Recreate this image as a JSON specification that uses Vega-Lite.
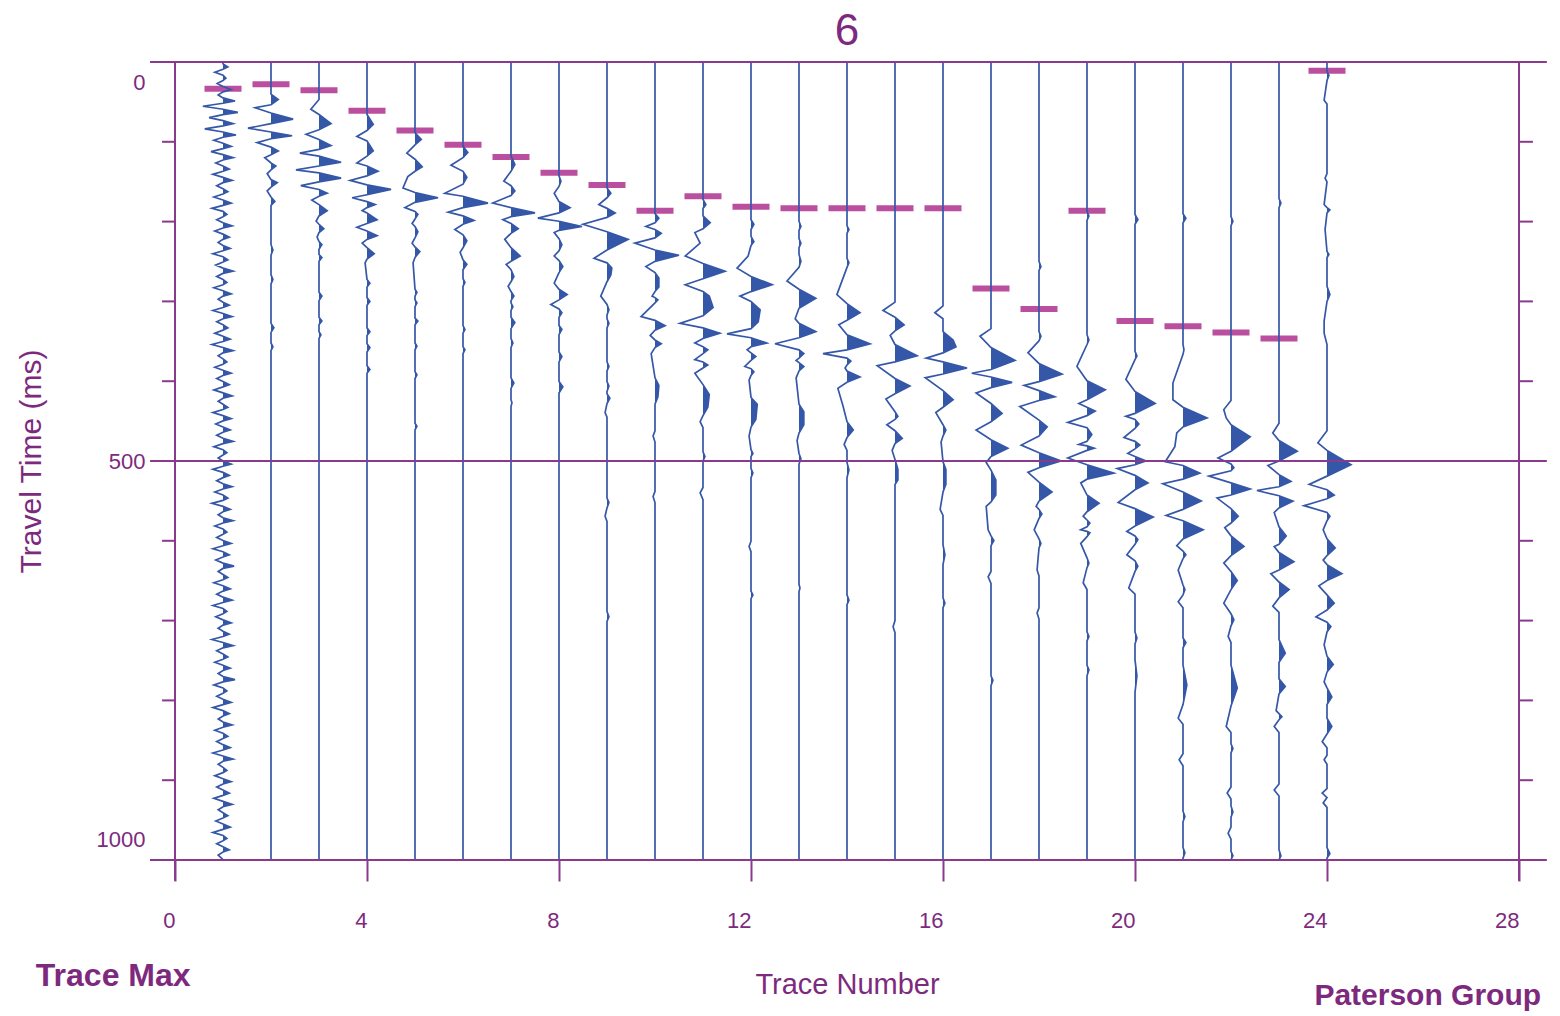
{
"$schema":"https://vega.github.io/schema/vega-lite/v6.json",
"width":1344,"height":798,
"autosize":{"type":"none"},
"padding":{"left":175,"top":62,"right":41,"bottom":156},
"background":"white",
"config":{"view":{"stroke":null}},
"title":{"text":"6","fontSize":44,"fontWeight":"normal","color":"#7d2a7e","font":"Liberation Sans","frame":"group","anchor":"middle","offset":5},
"datasets":{
"picks":[{"k":1,"t":8},{"k":2,"t":2},{"k":3,"t":10},{"k":4,"t":37},{"k":5,"t":63},{"k":6,"t":82},{"k":7,"t":98},{"k":8,"t":119},{"k":9,"t":135},{"k":10,"t":169},{"k":11,"t":150},{"k":12,"t":164},{"k":13,"t":166},{"k":14,"t":166},{"k":15,"t":166},{"k":16,"t":166},{"k":17,"t":272},{"k":18,"t":299},{"k":19,"t":169},{"k":20,"t":315},{"k":21,"t":322},{"k":22,"t":330},{"k":23,"t":338},{"k":24,"t":-16}],
"ticks":[{"t":78},{"t":183.5},{"t":289},{"t":394.5},{"t":500},{"t":605.5},{"t":711},{"t":816.5},{"t":922}],
"hl":[{"t":-27.5},{"t":500},{"t":1027.5}],
"vl":[{"v":0},{"v":28}],
"tr":[
{"k":1,"t":-27,"x":1},
{"k":1,"t":-25,"x":1,"g":1},{"k":1,"t":-21,"x":1.1,"g":1},{"k":1,"t":-18,"x":1,"g":1},{"k":1,"t":-14,"x":0.83},
{"k":1,"t":-10,"x":1,"g":2},{"k":1,"t":-6,"x":1.06,"g":2},{"k":1,"t":-3,"x":1,"g":2},{"k":1,"t":1,"x":0.88},
{"k":1,"t":5,"x":1,"g":3},{"k":1,"t":9,"x":1.17,"g":3},{"k":1,"t":12,"x":1,"g":3},{"k":1,"t":16,"x":0.9},
{"k":1,"t":20,"x":1,"g":4},{"k":1,"t":24,"x":1.25,"g":4},{"k":1,"t":27,"x":1,"g":4},{"k":1,"t":31,"x":0.58},
{"k":1,"t":35,"x":1,"g":5},{"k":1,"t":39,"x":1.31,"g":5},{"k":1,"t":42,"x":1,"g":5},{"k":1,"t":46,"x":0.71},
{"k":1,"t":50,"x":1,"g":6},{"k":1,"t":54,"x":1.21,"g":6},{"k":1,"t":57,"x":1,"g":6},{"k":1,"t":61,"x":0.62},
{"k":1,"t":65,"x":1,"g":7},{"k":1,"t":69,"x":1.27,"g":7},{"k":1,"t":72,"x":1,"g":7},{"k":1,"t":76,"x":0.81},
{"k":1,"t":80,"x":1,"g":8},{"k":1,"t":84,"x":1.17,"g":8},{"k":1,"t":87,"x":1,"g":8},{"k":1,"t":91,"x":0.75},
{"k":1,"t":95,"x":1,"g":9},{"k":1,"t":99,"x":1.21,"g":9},{"k":1,"t":102,"x":1,"g":9},{"k":1,"t":106,"x":0.85},
{"k":1,"t":110,"x":1,"g":10},{"k":1,"t":114,"x":1.13,"g":10},{"k":1,"t":117,"x":1,"g":10},{"k":1,"t":121,"x":0.79},
{"k":1,"t":125,"x":1,"g":11},{"k":1,"t":129,"x":1.19,"g":11},{"k":1,"t":132,"x":1,"g":11},{"k":1,"t":136,"x":0.87},
{"k":1,"t":140,"x":1,"g":12},{"k":1,"t":144,"x":1.1,"g":12},{"k":1,"t":147,"x":1,"g":12},{"k":1,"t":151,"x":0.81},
{"k":1,"t":155,"x":1,"g":13},{"k":1,"t":159,"x":1.17,"g":13},{"k":1,"t":162,"x":1,"g":13},{"k":1,"t":166,"x":0.77},
{"k":1,"t":170,"x":1,"g":14},{"k":1,"t":174,"x":1.08,"g":14},{"k":1,"t":177,"x":1,"g":14},{"k":1,"t":181,"x":0.87},
{"k":1,"t":185,"x":1,"g":15},{"k":1,"t":189,"x":1.19,"g":15},{"k":1,"t":192,"x":1,"g":15},{"k":1,"t":196,"x":0.83},
{"k":1,"t":200,"x":1,"g":16},{"k":1,"t":204,"x":1.13,"g":16},{"k":1,"t":207,"x":1,"g":16},{"k":1,"t":211,"x":0.9},
{"k":1,"t":215,"x":1,"g":17},{"k":1,"t":219,"x":1.15,"g":17},{"k":1,"t":222,"x":1,"g":17},{"k":1,"t":226,"x":0.79},
{"k":1,"t":230,"x":1,"g":18},{"k":1,"t":234,"x":1.1,"g":18},{"k":1,"t":237,"x":1,"g":18},{"k":1,"t":241,"x":0.85},
{"k":1,"t":245,"x":1,"g":19},{"k":1,"t":249,"x":1.21,"g":19},{"k":1,"t":252,"x":1,"g":19},{"k":1,"t":256,"x":0.87},
{"k":1,"t":260,"x":1,"g":20},{"k":1,"t":264,"x":1.08,"g":20},{"k":1,"t":267,"x":1,"g":20},{"k":1,"t":271,"x":0.81},
{"k":1,"t":275,"x":1,"g":21},{"k":1,"t":279,"x":1.17,"g":21},{"k":1,"t":282,"x":1,"g":21},{"k":1,"t":286,"x":0.9},
{"k":1,"t":290,"x":1,"g":22},{"k":1,"t":294,"x":1.13,"g":22},{"k":1,"t":297,"x":1,"g":22},{"k":1,"t":301,"x":0.79},
{"k":1,"t":305,"x":1,"g":23},{"k":1,"t":309,"x":1.19,"g":23},{"k":1,"t":312,"x":1,"g":23},{"k":1,"t":316,"x":0.87},
{"k":1,"t":320,"x":1,"g":24},{"k":1,"t":324,"x":1.1,"g":24},{"k":1,"t":327,"x":1,"g":24},{"k":1,"t":331,"x":0.83},
{"k":1,"t":335,"x":1,"g":25},{"k":1,"t":339,"x":1.15,"g":25},{"k":1,"t":342,"x":1,"g":25},{"k":1,"t":346,"x":0.77},
{"k":1,"t":350,"x":1,"g":26},{"k":1,"t":354,"x":1.21,"g":26},{"k":1,"t":357,"x":1,"g":26},{"k":1,"t":361,"x":0.9},
{"k":1,"t":365,"x":1,"g":27},{"k":1,"t":369,"x":1.08,"g":27},{"k":1,"t":372,"x":1,"g":27},{"k":1,"t":376,"x":0.83},
{"k":1,"t":380,"x":1,"g":28},{"k":1,"t":384,"x":1.17,"g":28},{"k":1,"t":387,"x":1,"g":28},{"k":1,"t":391,"x":0.87},
{"k":1,"t":395,"x":1,"g":29},{"k":1,"t":399,"x":1.13,"g":29},{"k":1,"t":402,"x":1,"g":29},{"k":1,"t":406,"x":0.81},
{"k":1,"t":410,"x":1,"g":30},{"k":1,"t":414,"x":1.19,"g":30},{"k":1,"t":417,"x":1,"g":30},{"k":1,"t":421,"x":0.9},
{"k":1,"t":425,"x":1,"g":31},{"k":1,"t":429,"x":1.1,"g":31},{"k":1,"t":432,"x":1,"g":31},{"k":1,"t":436,"x":0.79},
{"k":1,"t":440,"x":1,"g":32},{"k":1,"t":444,"x":1.17,"g":32},{"k":1,"t":447,"x":1,"g":32},{"k":1,"t":451,"x":0.85},
{"k":1,"t":455,"x":1,"g":33},{"k":1,"t":459,"x":1.15,"g":33},{"k":1,"t":462,"x":1,"g":33},{"k":1,"t":466,"x":0.87},
{"k":1,"t":470,"x":1,"g":34},{"k":1,"t":474,"x":1.21,"g":34},{"k":1,"t":477,"x":1,"g":34},{"k":1,"t":481,"x":0.81},
{"k":1,"t":485,"x":1,"g":35},{"k":1,"t":489,"x":1.08,"g":35},{"k":1,"t":492,"x":1,"g":35},{"k":1,"t":496,"x":0.9},
{"k":1,"t":500,"x":1,"g":36},{"k":1,"t":504,"x":1.17,"g":36},{"k":1,"t":507,"x":1,"g":36},{"k":1,"t":511,"x":0.79},
{"k":1,"t":515,"x":1,"g":37},{"k":1,"t":519,"x":1.13,"g":37},{"k":1,"t":522,"x":1,"g":37},{"k":1,"t":526,"x":0.87},
{"k":1,"t":530,"x":1,"g":38},{"k":1,"t":534,"x":1.19,"g":38},{"k":1,"t":537,"x":1,"g":38},{"k":1,"t":541,"x":0.83},
{"k":1,"t":545,"x":1,"g":39},{"k":1,"t":549,"x":1.1,"g":39},{"k":1,"t":552,"x":1,"g":39},{"k":1,"t":556,"x":0.77},
{"k":1,"t":560,"x":1,"g":40},{"k":1,"t":564,"x":1.15,"g":40},{"k":1,"t":567,"x":1,"g":40},{"k":1,"t":571,"x":0.9},
{"k":1,"t":575,"x":1,"g":41},{"k":1,"t":579,"x":1.21,"g":41},{"k":1,"t":582,"x":1,"g":41},{"k":1,"t":586,"x":0.83},
{"k":1,"t":590,"x":1,"g":42},{"k":1,"t":594,"x":1.08,"g":42},{"k":1,"t":597,"x":1,"g":42},{"k":1,"t":601,"x":0.87},
{"k":1,"t":605,"x":1,"g":43},{"k":1,"t":609,"x":1.17,"g":43},{"k":1,"t":612,"x":1,"g":43},{"k":1,"t":616,"x":0.79},
{"k":1,"t":620,"x":1,"g":44},{"k":1,"t":624,"x":1.13,"g":44},{"k":1,"t":627,"x":1,"g":44},{"k":1,"t":631,"x":0.85},
{"k":1,"t":635,"x":1,"g":45},{"k":1,"t":639,"x":1.23,"g":45},{"k":1,"t":642,"x":1,"g":45},{"k":1,"t":646,"x":0.9},
{"k":1,"t":650,"x":1,"g":46},{"k":1,"t":654,"x":1.1,"g":46},{"k":1,"t":657,"x":1,"g":46},{"k":1,"t":661,"x":0.81},
{"k":1,"t":665,"x":1,"g":47},{"k":1,"t":669,"x":1.15,"g":47},{"k":1,"t":672,"x":1,"g":47},{"k":1,"t":676,"x":0.87},
{"k":1,"t":680,"x":1,"g":48},{"k":1,"t":684,"x":1.19,"g":48},{"k":1,"t":687,"x":1,"g":48},{"k":1,"t":691,"x":0.79},
{"k":1,"t":695,"x":1,"g":49},{"k":1,"t":699,"x":1.08,"g":49},{"k":1,"t":702,"x":1,"g":49},{"k":1,"t":706,"x":0.85},
{"k":1,"t":710,"x":1,"g":50},{"k":1,"t":714,"x":1.17,"g":50},{"k":1,"t":717,"x":1,"g":50},{"k":1,"t":721,"x":0.9},
{"k":1,"t":725,"x":1,"g":51},{"k":1,"t":729,"x":1.13,"g":51},{"k":1,"t":732,"x":1,"g":51},{"k":1,"t":736,"x":0.77},
{"k":1,"t":740,"x":1,"g":52},{"k":1,"t":744,"x":1.21,"g":52},{"k":1,"t":747,"x":1,"g":52},{"k":1,"t":751,"x":0.87},
{"k":1,"t":755,"x":1,"g":53},{"k":1,"t":759,"x":1.1,"g":53},{"k":1,"t":762,"x":1,"g":53},{"k":1,"t":766,"x":0.83},
{"k":1,"t":770,"x":1,"g":54},{"k":1,"t":774,"x":1.15,"g":54},{"k":1,"t":777,"x":1,"g":54},{"k":1,"t":781,"x":0.9},
{"k":1,"t":785,"x":1,"g":55},{"k":1,"t":789,"x":1.25,"g":55},{"k":1,"t":792,"x":1,"g":55},{"k":1,"t":796,"x":0.81},
{"k":1,"t":800,"x":1,"g":56},{"k":1,"t":804,"x":1.08,"g":56},{"k":1,"t":807,"x":1,"g":56},{"k":1,"t":811,"x":0.87},
{"k":1,"t":815,"x":1,"g":57},{"k":1,"t":819,"x":1.17,"g":57},{"k":1,"t":822,"x":1,"g":57},{"k":1,"t":826,"x":0.79},
{"k":1,"t":830,"x":1,"g":58},{"k":1,"t":834,"x":1.13,"g":58},{"k":1,"t":837,"x":1,"g":58},{"k":1,"t":841,"x":0.9},
{"k":1,"t":845,"x":1,"g":59},{"k":1,"t":849,"x":1.19,"g":59},{"k":1,"t":852,"x":1,"g":59},{"k":1,"t":856,"x":0.83},
{"k":1,"t":860,"x":1,"g":60},{"k":1,"t":864,"x":1.1,"g":60},{"k":1,"t":867,"x":1,"g":60},{"k":1,"t":871,"x":0.87},
{"k":1,"t":875,"x":1,"g":61},{"k":1,"t":879,"x":1.15,"g":61},{"k":1,"t":882,"x":1,"g":61},{"k":1,"t":886,"x":0.79},
{"k":1,"t":890,"x":1,"g":62},{"k":1,"t":894,"x":1.21,"g":62},{"k":1,"t":897,"x":1,"g":62},{"k":1,"t":901,"x":0.9},
{"k":1,"t":905,"x":1,"g":63},{"k":1,"t":909,"x":1.08,"g":63},{"k":1,"t":912,"x":1,"g":63},{"k":1,"t":916,"x":0.83},
{"k":1,"t":920,"x":1,"g":64},{"k":1,"t":924,"x":1.17,"g":64},{"k":1,"t":927,"x":1,"g":64},{"k":1,"t":931,"x":0.87},
{"k":1,"t":935,"x":1,"g":65},{"k":1,"t":939,"x":1.13,"g":65},{"k":1,"t":942,"x":1,"g":65},{"k":1,"t":946,"x":0.81},
{"k":1,"t":950,"x":1,"g":66},{"k":1,"t":954,"x":1.19,"g":66},{"k":1,"t":957,"x":1,"g":66},{"k":1,"t":961,"x":0.9},
{"k":1,"t":965,"x":1,"g":67},{"k":1,"t":969,"x":1.1,"g":67},{"k":1,"t":972,"x":1,"g":67},{"k":1,"t":976,"x":0.85},
{"k":1,"t":980,"x":1,"g":68},{"k":1,"t":984,"x":1.15,"g":68},{"k":1,"t":987,"x":1,"g":68},{"k":1,"t":991,"x":0.79},
{"k":1,"t":995,"x":1,"g":69},{"k":1,"t":999,"x":1.08,"g":69},{"k":1,"t":1002,"x":1,"g":69},{"k":1,"t":1006,"x":0.87},
{"k":1,"t":1010,"x":1,"g":70},{"k":1,"t":1014,"x":1.13,"g":70},{"k":1,"t":1017,"x":1,"g":70},{"k":1,"t":1021,"x":0.9},
{"k":1,"t":1027,"x":1},

{"k":2,"t":-27,"x":2},
{"k":2,"t":15,"x":2,"g":1},{"k":2,"t":22,"x":2.15,"g":1},{"k":2,"t":29,"x":2,"g":1},{"k":2,"t":33,"x":1.67},
{"k":2,"t":40,"x":2,"g":2},{"k":2,"t":48,"x":2.46,"g":2},{"k":2,"t":54,"x":2,"g":2},{"k":2,"t":60,"x":1.52},
{"k":2,"t":65,"x":2,"g":3},{"k":2,"t":70,"x":2.44,"g":3},{"k":2,"t":74,"x":2,"g":3},{"k":2,"t":79,"x":1.71},
{"k":2,"t":85,"x":2,"g":4},{"k":2,"t":90,"x":2.15,"g":4},{"k":2,"t":95,"x":2,"g":4},{"k":2,"t":99,"x":1.87},
{"k":2,"t":106,"x":2,"g":5},{"k":2,"t":110,"x":2.1,"g":5},{"k":2,"t":115,"x":2,"g":5},{"k":2,"t":120,"x":1.92},
{"k":2,"t":128,"x":2,"g":6},{"k":2,"t":132,"x":2.13,"g":6},{"k":2,"t":138,"x":2,"g":6},{"k":2,"t":143,"x":1.92},
{"k":2,"t":151,"x":2,"g":7},{"k":2,"t":157,"x":2.08,"g":7},{"k":2,"t":162,"x":2,"g":7},
{"k":2,"t":214,"x":2,"g":8},{"k":2,"t":221,"x":2.04,"g":8},{"k":2,"t":228,"x":2,"g":8},
{"k":2,"t":254,"x":2,"g":9},{"k":2,"t":260,"x":2.04,"g":9},{"k":2,"t":266,"x":2,"g":9},
{"k":2,"t":318,"x":2,"g":10},{"k":2,"t":324,"x":2.06,"g":10},{"k":2,"t":330,"x":2,"g":10},
{"k":2,"t":344,"x":2,"g":11},{"k":2,"t":349,"x":2.04,"g":11},{"k":2,"t":354,"x":2,"g":11},
{"k":2,"t":1027,"x":2},

{"k":3,"t":-27,"x":3},{"k":3,"t":22,"x":3},{"k":3,"t":35,"x":2.83},
{"k":3,"t":42,"x":3,"g":1},{"k":3,"t":54,"x":3.25,"g":1},{"k":3,"t":62,"x":3,"g":1},{"k":3,"t":68,"x":2.73},
{"k":3,"t":75,"x":3,"g":2},{"k":3,"t":83,"x":3.25,"g":2},{"k":3,"t":88,"x":3,"g":2},{"k":3,"t":93,"x":2.6},
{"k":3,"t":97,"x":3,"g":3},{"k":3,"t":105,"x":3.46,"g":3},{"k":3,"t":110,"x":3,"g":3},{"k":3,"t":115,"x":2.52},
{"k":3,"t":119,"x":3,"g":4},{"k":3,"t":126,"x":3.46,"g":4},{"k":3,"t":131,"x":3,"g":4},{"k":3,"t":136,"x":2.62},
{"k":3,"t":141,"x":3,"g":5},{"k":3,"t":146,"x":3.17,"g":5},{"k":3,"t":150,"x":3,"g":5},{"k":3,"t":155,"x":2.85},
{"k":3,"t":161,"x":3,"g":6},{"k":3,"t":169,"x":3.17,"g":6},{"k":3,"t":176,"x":3,"g":6},{"k":3,"t":183,"x":2.94},
{"k":3,"t":187,"x":3,"g":7},{"k":3,"t":193,"x":3.1,"g":7},{"k":3,"t":198,"x":3,"g":7},{"k":3,"t":204,"x":2.96},
{"k":3,"t":210,"x":3,"g":8},{"k":3,"t":214,"x":3.06,"g":8},{"k":3,"t":220,"x":3,"g":8},
{"k":3,"t":227,"x":3,"g":9},{"k":3,"t":231,"x":3.06,"g":9},{"k":3,"t":236,"x":3,"g":9},
{"k":3,"t":277,"x":3,"g":10},{"k":3,"t":282,"x":3.06,"g":10},{"k":3,"t":288,"x":3,"g":10},
{"k":3,"t":310,"x":3,"g":11},{"k":3,"t":315,"x":3.06,"g":11},{"k":3,"t":320,"x":3,"g":11},
{"k":3,"t":329,"x":3,"g":12},{"k":3,"t":333,"x":3.04,"g":12},{"k":3,"t":338,"x":3,"g":12},
{"k":3,"t":1027,"x":3},

{"k":4,"t":-27,"x":4},
{"k":4,"t":42,"x":4,"g":1},{"k":4,"t":55,"x":4.13,"g":1},{"k":4,"t":63,"x":4,"g":1},{"k":4,"t":71,"x":3.79},
{"k":4,"t":77,"x":4,"g":2},{"k":4,"t":90,"x":4.13,"g":2},{"k":4,"t":97,"x":4,"g":2},{"k":4,"t":106,"x":3.79},
{"k":4,"t":110,"x":4,"g":3},{"k":4,"t":117,"x":4.23,"g":3},{"k":4,"t":123,"x":4,"g":3},{"k":4,"t":129,"x":3.65},
{"k":4,"t":135,"x":4,"g":4},{"k":4,"t":141,"x":4.5,"g":4},{"k":4,"t":148,"x":4,"g":4},{"k":4,"t":152,"x":3.69},
{"k":4,"t":157,"x":4,"g":5},{"k":4,"t":161,"x":4.17,"g":5},{"k":4,"t":165,"x":4,"g":5},{"k":4,"t":169,"x":3.9},
{"k":4,"t":172,"x":4,"g":6},{"k":4,"t":181,"x":4.21,"g":6},{"k":4,"t":186,"x":4,"g":6},{"k":4,"t":191,"x":3.79},
{"k":4,"t":196,"x":4,"g":7},{"k":4,"t":202,"x":4.21,"g":7},{"k":4,"t":207,"x":4,"g":7},{"k":4,"t":212,"x":3.9},
{"k":4,"t":218,"x":4,"g":8},{"k":4,"t":226,"x":4.15,"g":8},{"k":4,"t":233,"x":4,"g":8},{"k":4,"t":238,"x":3.96},
{"k":4,"t":260,"x":4,"g":9},{"k":4,"t":265,"x":4.06,"g":9},{"k":4,"t":270,"x":4,"g":9},
{"k":4,"t":284,"x":4,"g":10},{"k":4,"t":289,"x":4.06,"g":10},{"k":4,"t":294,"x":4,"g":10},
{"k":4,"t":324,"x":4,"g":11},{"k":4,"t":329,"x":4.06,"g":11},{"k":4,"t":334,"x":4,"g":11},
{"k":4,"t":345,"x":4,"g":12},{"k":4,"t":350,"x":4.06,"g":12},{"k":4,"t":356,"x":4,"g":12},
{"k":4,"t":374,"x":4,"g":13},{"k":4,"t":379,"x":4.06,"g":13},{"k":4,"t":384,"x":4,"g":13},
{"k":4,"t":1027,"x":4},

{"k":5,"t":-27,"x":5},
{"k":5,"t":66,"x":5,"g":1},{"k":5,"t":75,"x":5.13,"g":1},{"k":5,"t":82,"x":5,"g":1},{"k":5,"t":93,"x":4.83},
{"k":5,"t":101,"x":5,"g":2},{"k":5,"t":111,"x":5.15,"g":2},{"k":5,"t":117,"x":5,"g":2},{"k":5,"t":124,"x":4.85},{"k":5,"t":139,"x":4.75},
{"k":5,"t":145,"x":5,"g":3},{"k":5,"t":152,"x":5.48,"g":3},{"k":5,"t":158,"x":5,"g":3},{"k":5,"t":165,"x":4.79},
{"k":5,"t":170,"x":5,"g":4},{"k":5,"t":174,"x":5.06,"g":4},{"k":5,"t":180,"x":5,"g":4},{"k":5,"t":186,"x":4.94},
{"k":5,"t":190,"x":5,"g":5},{"k":5,"t":197,"x":5.06,"g":5},{"k":5,"t":205,"x":5,"g":5},{"k":5,"t":212,"x":4.94},
{"k":5,"t":217,"x":5,"g":6},{"k":5,"t":223,"x":5.1,"g":6},{"k":5,"t":231,"x":5,"g":6},{"k":5,"t":238,"x":4.96},
{"k":5,"t":273,"x":5,"g":7},{"k":5,"t":277,"x":5.04,"g":7},{"k":5,"t":282,"x":5,"g":7},
{"k":5,"t":287,"x":5,"g":8},{"k":5,"t":291,"x":5.04,"g":8},{"k":5,"t":296,"x":5,"g":8},
{"k":5,"t":311,"x":5,"g":9},{"k":5,"t":315,"x":5.06,"g":9},{"k":5,"t":320,"x":5,"g":9},
{"k":5,"t":344,"x":5,"g":10},{"k":5,"t":348,"x":5.04,"g":10},{"k":5,"t":353,"x":5,"g":10},
{"k":5,"t":382,"x":5,"g":11},{"k":5,"t":386,"x":5.04,"g":11},{"k":5,"t":391,"x":5,"g":11},
{"k":5,"t":450,"x":5,"g":12},{"k":5,"t":454,"x":5.04,"g":12},{"k":5,"t":459,"x":5,"g":12},
{"k":5,"t":1027,"x":5},

{"k":6,"t":-27,"x":6},
{"k":6,"t":84,"x":6,"g":1},{"k":6,"t":92,"x":6.1,"g":1},{"k":6,"t":99,"x":6,"g":1},{"k":6,"t":109,"x":5.75},
{"k":6,"t":117,"x":6,"g":2},{"k":6,"t":125,"x":6.08,"g":2},{"k":6,"t":134,"x":6,"g":2},{"k":6,"t":146,"x":5.62},
{"k":6,"t":150,"x":6,"g":3},{"k":6,"t":159,"x":6.52,"g":3},{"k":6,"t":165,"x":6,"g":3},{"k":6,"t":171,"x":5.69},
{"k":6,"t":176,"x":6,"g":4},{"k":6,"t":182,"x":6.23,"g":4},{"k":6,"t":187,"x":6,"g":4},{"k":6,"t":194,"x":5.83},
{"k":6,"t":201,"x":6,"g":5},{"k":6,"t":209,"x":6.08,"g":5},{"k":6,"t":218,"x":6,"g":5},{"k":6,"t":224,"x":5.94},
{"k":6,"t":234,"x":6,"g":6},{"k":6,"t":240,"x":6.08,"g":6},{"k":6,"t":247,"x":6,"g":6},
{"k":6,"t":259,"x":6,"g":7},{"k":6,"t":264,"x":6.04,"g":7},{"k":6,"t":269,"x":6,"g":7},
{"k":6,"t":321,"x":6,"g":8},{"k":6,"t":326,"x":6.04,"g":8},{"k":6,"t":331,"x":6,"g":8},
{"k":6,"t":349,"x":6,"g":9},{"k":6,"t":353,"x":6.04,"g":9},{"k":6,"t":358,"x":6,"g":9},
{"k":6,"t":1027,"x":6},

{"k":7,"t":-27,"x":7},
{"k":7,"t":97,"x":7,"g":1},{"k":7,"t":108,"x":7.08,"g":1},{"k":7,"t":117,"x":7,"g":1},{"k":7,"t":130,"x":6.85},
{"k":7,"t":136,"x":7,"g":2},{"k":7,"t":143,"x":7.08,"g":2},{"k":7,"t":149,"x":7,"g":2},{"k":7,"t":159,"x":6.62},
{"k":7,"t":165,"x":7,"g":3},{"k":7,"t":172,"x":7.5,"g":3},{"k":7,"t":177,"x":7,"g":3},{"k":7,"t":181,"x":6.83},
{"k":7,"t":186,"x":7,"g":4},{"k":7,"t":193,"x":7.15,"g":4},{"k":7,"t":199,"x":7,"g":4},{"k":7,"t":207,"x":6.87},
{"k":7,"t":218,"x":7,"g":5},{"k":7,"t":229,"x":7.19,"g":5},{"k":7,"t":236,"x":7,"g":5},{"k":7,"t":240,"x":6.9},
{"k":7,"t":247,"x":7,"g":6},{"k":7,"t":256,"x":7.06,"g":6},{"k":7,"t":263,"x":7,"g":6},{"k":7,"t":269,"x":6.94},
{"k":7,"t":276,"x":7,"g":7},{"k":7,"t":282,"x":7.06,"g":7},{"k":7,"t":288,"x":7,"g":7},
{"k":7,"t":291,"x":7,"g":8},{"k":7,"t":296,"x":7.04,"g":8},{"k":7,"t":301,"x":7,"g":8},
{"k":7,"t":310,"x":7,"g":9},{"k":7,"t":317,"x":7.08,"g":9},{"k":7,"t":325,"x":7,"g":9},
{"k":7,"t":338,"x":7,"g":10},{"k":7,"t":344,"x":7.04,"g":10},{"k":7,"t":350,"x":7,"g":10},
{"k":7,"t":390,"x":7,"g":11},{"k":7,"t":397,"x":7.06,"g":11},{"k":7,"t":404,"x":7,"g":11},
{"k":7,"t":419,"x":7,"g":12},{"k":7,"t":423,"x":7.02,"g":12},{"k":7,"t":428,"x":7,"g":12},
{"k":7,"t":1027,"x":7},

{"k":8,"t":-27,"x":8},
{"k":8,"t":123,"x":8,"g":1},{"k":8,"t":130,"x":8.04,"g":1},{"k":8,"t":137,"x":8,"g":1},{"k":8,"t":146,"x":7.9},
{"k":8,"t":157,"x":8,"g":2},{"k":8,"t":165,"x":8.23,"g":2},{"k":8,"t":172,"x":8,"g":2},{"k":8,"t":179,"x":7.56},
{"k":8,"t":183,"x":8,"g":3},{"k":8,"t":190,"x":8.48,"g":3},{"k":8,"t":195,"x":8,"g":3},{"k":8,"t":198,"x":7.9},
{"k":8,"t":206,"x":8,"g":4},{"k":8,"t":214,"x":8.06,"g":4},{"k":8,"t":222,"x":8,"g":4},{"k":8,"t":229,"x":7.9},
{"k":8,"t":235,"x":8,"g":5},{"k":8,"t":243,"x":8.08,"g":5},{"k":8,"t":251,"x":8,"g":5},{"k":8,"t":265,"x":7.9},
{"k":8,"t":273,"x":8,"g":6},{"k":8,"t":280,"x":8.17,"g":6},{"k":8,"t":287,"x":8,"g":6},{"k":8,"t":293,"x":7.83},
{"k":8,"t":299,"x":8,"g":7},{"k":8,"t":304,"x":8.06,"g":7},{"k":8,"t":310,"x":8,"g":7},
{"k":8,"t":321,"x":8,"g":8},{"k":8,"t":326,"x":8.06,"g":8},{"k":8,"t":333,"x":8,"g":8},
{"k":8,"t":356,"x":8,"g":9},{"k":8,"t":362,"x":8.06,"g":9},{"k":8,"t":369,"x":8,"g":9},
{"k":8,"t":395,"x":8,"g":10},{"k":8,"t":402,"x":8.08,"g":10},{"k":8,"t":410,"x":8,"g":10},
{"k":8,"t":1027,"x":8},

{"k":9,"t":-27,"x":9},
{"k":9,"t":139,"x":9,"g":1},{"k":9,"t":146,"x":9.08,"g":1},{"k":9,"t":152,"x":9,"g":1},{"k":9,"t":161,"x":8.83},
{"k":9,"t":166,"x":9,"g":2},{"k":9,"t":172,"x":9.17,"g":2},{"k":9,"t":178,"x":9,"g":2},{"k":9,"t":187,"x":8.5},
{"k":9,"t":197,"x":9,"g":3},{"k":9,"t":207,"x":9.44,"g":3},{"k":9,"t":221,"x":9,"g":3},{"k":9,"t":232,"x":8.73},
{"k":9,"t":238,"x":9,"g":4},{"k":9,"t":245,"x":9.1,"g":4},{"k":9,"t":254,"x":9.08,"g":4},{"k":9,"t":263,"x":9,"g":4},{"k":9,"t":282,"x":8.87},
{"k":9,"t":293,"x":9,"g":5},{"k":9,"t":300,"x":9.04,"g":5},{"k":9,"t":307,"x":9,"g":5},
{"k":9,"t":312,"x":9,"g":6},{"k":9,"t":318,"x":9.04,"g":6},{"k":9,"t":324,"x":9,"g":6},
{"k":9,"t":369,"x":9,"g":7},{"k":9,"t":375,"x":9.04,"g":7},{"k":9,"t":381,"x":9,"g":7},
{"k":9,"t":395,"x":9,"g":8},{"k":9,"t":401,"x":9.04,"g":8},{"k":9,"t":408,"x":9,"g":8},
{"k":9,"t":411,"x":9,"g":9},{"k":9,"t":417,"x":9.06,"g":9},{"k":9,"t":424,"x":9,"g":9},{"k":9,"t":436,"x":8.96},{"k":9,"t":442,"x":9},
{"k":9,"t":549,"x":9,"g":10},{"k":9,"t":555,"x":9.04,"g":10},{"k":9,"t":562,"x":9,"g":10},{"k":9,"t":573,"x":8.96},{"k":9,"t":580,"x":9},
{"k":9,"t":699,"x":9,"g":11},{"k":9,"t":706,"x":9.04,"g":11},{"k":9,"t":712,"x":9,"g":11},
{"k":9,"t":1027,"x":9},

{"k":10,"t":-27,"x":10},
{"k":10,"t":173,"x":10,"g":1},{"k":10,"t":179,"x":10.08,"g":1},{"k":10,"t":185,"x":10,"g":1},{"k":10,"t":190,"x":9.81},
{"k":10,"t":194,"x":10,"g":2},{"k":10,"t":199,"x":10.13,"g":2},{"k":10,"t":205,"x":10,"g":2},{"k":10,"t":212,"x":9.58},
{"k":10,"t":221,"x":10,"g":3},{"k":10,"t":228,"x":10.5,"g":3},{"k":10,"t":236,"x":10,"g":3},{"k":10,"t":243,"x":9.81},
{"k":10,"t":251,"x":10,"g":4},{"k":10,"t":258,"x":10.08,"g":4},{"k":10,"t":270,"x":10.08,"g":4},{"k":10,"t":276,"x":10,"g":4},{"k":10,"t":282,"x":9.94},
{"k":10,"t":284,"x":10,"g":5},{"k":10,"t":287,"x":10.06,"g":5},{"k":10,"t":291,"x":10,"g":5},{"k":10,"t":309,"x":9.71},
{"k":10,"t":314,"x":10,"g":6},{"k":10,"t":321,"x":10.21,"g":6},{"k":10,"t":327,"x":10,"g":6},{"k":10,"t":334,"x":9.9},
{"k":10,"t":340,"x":10,"g":7},{"k":10,"t":345,"x":10.13,"g":7},{"k":10,"t":350,"x":10,"g":7},{"k":10,"t":358,"x":9.92},
{"k":10,"t":390,"x":10,"g":8},{"k":10,"t":400,"x":10.08,"g":8},{"k":10,"t":415,"x":10.06,"g":8},{"k":10,"t":425,"x":10,"g":8},
{"k":10,"t":460,"x":10},{"k":10,"t":467,"x":9.96},{"k":10,"t":475,"x":10},{"k":10,"t":540,"x":10},{"k":10,"t":547,"x":9.96},{"k":10,"t":555,"x":10},
{"k":10,"t":1027,"x":10},

{"k":11,"t":-27,"x":11},
{"k":11,"t":154,"x":11,"g":1},{"k":11,"t":161,"x":11.06,"g":1},{"k":11,"t":166,"x":11,"g":1},
{"k":11,"t":176,"x":11,"g":2},{"k":11,"t":185,"x":11.15,"g":2},{"k":11,"t":193,"x":11,"g":2},
{"k":11,"t":198,"x":10.83},{"k":11,"t":212,"x":10.94},{"k":11,"t":229,"x":10.63},
{"k":11,"t":239,"x":11,"g":3},{"k":11,"t":249,"x":11.46,"g":3},{"k":11,"t":259,"x":11,"g":3},{"k":11,"t":267,"x":10.63},
{"k":11,"t":276,"x":11,"g":4},{"k":11,"t":282,"x":11.13,"g":4},{"k":11,"t":297,"x":11.21,"g":4},{"k":11,"t":308,"x":11,"g":4},{"k":11,"t":318,"x":10.52},
{"k":11,"t":324,"x":11,"g":5},{"k":11,"t":331,"x":11.35,"g":5},{"k":11,"t":338,"x":11,"g":5},{"k":11,"t":344,"x":10.83},
{"k":11,"t":349,"x":11,"g":6},{"k":11,"t":353,"x":11.1,"g":6},{"k":11,"t":358,"x":11,"g":6},{"k":11,"t":366,"x":10.83},
{"k":11,"t":369,"x":11,"g":7},{"k":11,"t":373,"x":11.1,"g":7},{"k":11,"t":377,"x":11,"g":7},{"k":11,"t":384,"x":10.83},
{"k":11,"t":399,"x":11,"g":8},{"k":11,"t":412,"x":11.13,"g":8},{"k":11,"t":429,"x":11.1,"g":8},{"k":11,"t":440,"x":11,"g":8},{"k":11,"t":448,"x":10.94},{"k":11,"t":456,"x":11},
{"k":11,"t":488,"x":11,"g":9},{"k":11,"t":494,"x":11.04,"g":9},{"k":11,"t":500,"x":11,"g":9},
{"k":11,"t":535,"x":11},{"k":11,"t":542,"x":10.94},{"k":11,"t":551,"x":11},
{"k":11,"t":1027,"x":11},

{"k":12,"t":-27,"x":12},
{"k":12,"t":181,"x":12,"g":1},{"k":12,"t":187,"x":12.06,"g":1},{"k":12,"t":194,"x":12,"g":1},
{"k":12,"t":203,"x":12,"g":2},{"k":12,"t":210,"x":12.06,"g":2},{"k":12,"t":215,"x":12,"g":2},
{"k":12,"t":229,"x":11.94},{"k":12,"t":245,"x":11.71},
{"k":12,"t":256,"x":12,"g":3},{"k":12,"t":267,"x":12.44,"g":3},{"k":12,"t":276,"x":12,"g":3},{"k":12,"t":282,"x":11.77},
{"k":12,"t":289,"x":12,"g":4},{"k":12,"t":300,"x":12.19,"g":4},{"k":12,"t":316,"x":12.15,"g":4},{"k":12,"t":325,"x":12,"g":4},{"k":12,"t":332,"x":11.5},
{"k":12,"t":337,"x":12,"g":5},{"k":12,"t":344,"x":12.33,"g":5},{"k":12,"t":349,"x":12,"g":5},{"k":12,"t":353,"x":11.92},
{"k":12,"t":357,"x":12,"g":6},{"k":12,"t":362,"x":12.1,"g":6},{"k":12,"t":367,"x":12,"g":6},{"k":12,"t":375,"x":11.87},
{"k":12,"t":378,"x":12,"g":7},{"k":12,"t":382,"x":12.06,"g":7},{"k":12,"t":387,"x":12,"g":7},{"k":12,"t":393,"x":11.96},
{"k":12,"t":416,"x":12,"g":8},{"k":12,"t":425,"x":12.13,"g":8},{"k":12,"t":445,"x":12.1,"g":8},{"k":12,"t":455,"x":12,"g":8},{"k":12,"t":467,"x":11.96},
{"k":12,"t":485,"x":12,"g":9},{"k":12,"t":490,"x":12.04,"g":9},{"k":12,"t":494,"x":12,"g":9},
{"k":12,"t":510,"x":12,"g":10},{"k":12,"t":516,"x":12.04,"g":10},{"k":12,"t":522,"x":12,"g":10},
{"k":12,"t":606,"x":12},{"k":12,"t":613,"x":11.96},{"k":12,"t":620,"x":12},
{"k":12,"t":672,"x":12,"g":11},{"k":12,"t":677,"x":12.04,"g":11},{"k":12,"t":682,"x":12,"g":11},
{"k":12,"t":1027,"x":12},

{"k":13,"t":-27,"x":13},
{"k":13,"t":183,"x":13,"g":1},{"k":13,"t":190,"x":13.04,"g":1},{"k":13,"t":195,"x":13,"g":1},
{"k":13,"t":206,"x":13,"g":2},{"k":13,"t":212,"x":13.04,"g":2},{"k":13,"t":218,"x":13,"g":2},
{"k":13,"t":227,"x":13,"g":3},{"k":13,"t":236,"x":13.04,"g":3},{"k":13,"t":244,"x":13,"g":3},{"k":13,"t":262,"x":12.75},
{"k":13,"t":273,"x":13,"g":4},{"k":13,"t":285,"x":13.35,"g":4},{"k":13,"t":298,"x":13,"g":4},{"k":13,"t":312,"x":12.92},
{"k":13,"t":318,"x":13,"g":5},{"k":13,"t":329,"x":13.35,"g":5},{"k":13,"t":337,"x":13,"g":5},{"k":13,"t":345,"x":12.5},
{"k":13,"t":353,"x":13,"g":6},{"k":13,"t":358,"x":13.1,"g":6},{"k":13,"t":364,"x":13,"g":6},{"k":13,"t":367,"x":12.94},
{"k":13,"t":370,"x":13,"g":7},{"k":13,"t":375,"x":13.1,"g":7},{"k":13,"t":381,"x":13,"g":7},{"k":13,"t":390,"x":12.94},
{"k":13,"t":425,"x":13,"g":8},{"k":13,"t":435,"x":13.1,"g":8},{"k":13,"t":452,"x":13.1,"g":8},{"k":13,"t":463,"x":13,"g":8},{"k":13,"t":473,"x":12.96},
{"k":13,"t":490,"x":13,"g":9},{"k":13,"t":497,"x":13.04,"g":9},{"k":13,"t":504,"x":13,"g":9},
{"k":13,"t":663,"x":13,"g":10},{"k":13,"t":668,"x":13.02,"g":10},{"k":13,"t":673,"x":13,"g":10},
{"k":13,"t":1027,"x":13},

{"k":14,"t":-27,"x":14},
{"k":14,"t":189,"x":14,"g":1},{"k":14,"t":194,"x":14.04,"g":1},{"k":14,"t":199,"x":14,"g":1},
{"k":14,"t":232,"x":14,"g":2},{"k":14,"t":238,"x":14.04,"g":2},{"k":14,"t":244,"x":14,"g":2},{"k":14,"t":280,"x":13.79},
{"k":14,"t":292,"x":14,"g":3},{"k":14,"t":304,"x":14.27,"g":3},{"k":14,"t":314,"x":14,"g":3},{"k":14,"t":320,"x":13.83},
{"k":14,"t":333,"x":14,"g":4},{"k":14,"t":345,"x":14.48,"g":4},{"k":14,"t":353,"x":14,"g":4},{"k":14,"t":358,"x":13.5},
{"k":14,"t":364,"x":14,"g":5},{"k":14,"t":368,"x":14.08,"g":5},{"k":14,"t":373,"x":14,"g":5},{"k":14,"t":377,"x":13.96},
{"k":14,"t":381,"x":14,"g":6},{"k":14,"t":389,"x":14.27,"g":6},{"k":14,"t":396,"x":14,"g":6},{"k":14,"t":404,"x":13.81},{"k":14,"t":428,"x":13.92},
{"k":14,"t":448,"x":14,"g":7},{"k":14,"t":459,"x":14.13,"g":7},{"k":14,"t":469,"x":14,"g":7},{"k":14,"t":478,"x":13.94},{"k":14,"t":486,"x":14},
{"k":14,"t":502,"x":14,"g":8},{"k":14,"t":512,"x":14.04,"g":8},{"k":14,"t":522,"x":14,"g":8},
{"k":14,"t":677,"x":14,"g":9},{"k":14,"t":684,"x":14.04,"g":9},{"k":14,"t":690,"x":14,"g":9},
{"k":14,"t":1027,"x":14},

{"k":15,"t":-27,"x":15},{"k":15,"t":290,"x":15},{"k":15,"t":301,"x":14.75},
{"k":15,"t":310,"x":15,"g":1},{"k":15,"t":320,"x":15.19,"g":1},{"k":15,"t":328,"x":15,"g":1},{"k":15,"t":334,"x":14.9},
{"k":15,"t":346,"x":15,"g":2},{"k":15,"t":361,"x":15.46,"g":2},{"k":15,"t":369,"x":15,"g":2},{"k":15,"t":374,"x":14.63},
{"k":15,"t":391,"x":15,"g":3},{"k":15,"t":401,"x":15.31,"g":3},{"k":15,"t":411,"x":15,"g":3},{"k":15,"t":418,"x":14.81},
{"k":15,"t":435,"x":15,"g":4},{"k":15,"t":441,"x":15.06,"g":4},{"k":15,"t":445,"x":15,"g":4},{"k":15,"t":452,"x":14.83},
{"k":15,"t":460,"x":15,"g":5},{"k":15,"t":470,"x":15.15,"g":5},{"k":15,"t":477,"x":15,"g":5},{"k":15,"t":486,"x":14.94},
{"k":15,"t":498,"x":15,"g":6},{"k":15,"t":511,"x":15.06,"g":6},{"k":15,"t":525,"x":15.06,"g":6},{"k":15,"t":531,"x":15,"g":6},
{"k":15,"t":711,"x":15},{"k":15,"t":719,"x":14.96},{"k":15,"t":727,"x":15},
{"k":15,"t":1027,"x":15},

{"k":16,"t":-27,"x":16},{"k":16,"t":295,"x":16},{"k":16,"t":304,"x":15.83},{"k":16,"t":312,"x":16},
{"k":16,"t":329,"x":16,"g":1},{"k":16,"t":340,"x":16.21,"g":1},{"k":16,"t":349,"x":16.27,"g":1},{"k":16,"t":357,"x":16,"g":1},{"k":16,"t":364,"x":15.65},
{"k":16,"t":369,"x":16,"g":2},{"k":16,"t":377,"x":16.5,"g":2},{"k":16,"t":385,"x":16,"g":2},{"k":16,"t":390,"x":15.63},
{"k":16,"t":407,"x":16,"g":3},{"k":16,"t":419,"x":16.21,"g":3},{"k":16,"t":429,"x":16,"g":3},{"k":16,"t":436,"x":15.85},
{"k":16,"t":452,"x":16,"g":4},{"k":16,"t":459,"x":16.06,"g":4},{"k":16,"t":467,"x":16,"g":4},{"k":16,"t":475,"x":15.96},
{"k":16,"t":501,"x":16,"g":5},{"k":16,"t":511,"x":16.06,"g":5},{"k":16,"t":531,"x":16.06,"g":5},{"k":16,"t":541,"x":16,"g":5},{"k":16,"t":564,"x":15.94},{"k":16,"t":572,"x":16},
{"k":16,"t":611,"x":16,"g":6},{"k":16,"t":624,"x":16.04,"g":6},{"k":16,"t":637,"x":16,"g":6},
{"k":16,"t":681,"x":16,"g":7},{"k":16,"t":688,"x":16.04,"g":7},{"k":16,"t":694,"x":16,"g":7},
{"k":16,"t":1027,"x":16},

{"k":17,"t":-27,"x":17},{"k":17,"t":325,"x":17},{"k":17,"t":335,"x":16.77},
{"k":17,"t":350,"x":17,"g":1},{"k":17,"t":367,"x":17.5,"g":1},{"k":17,"t":379,"x":17,"g":1},{"k":17,"t":384,"x":16.6},
{"k":17,"t":389,"x":17,"g":2},{"k":17,"t":396,"x":17.44,"g":2},{"k":17,"t":403,"x":17,"g":2},{"k":17,"t":410,"x":16.69},
{"k":17,"t":424,"x":17,"g":3},{"k":17,"t":437,"x":17.23,"g":3},{"k":17,"t":448,"x":17,"g":3},{"k":17,"t":459,"x":16.69},
{"k":17,"t":472,"x":17,"g":4},{"k":17,"t":483,"x":17.35,"g":4},{"k":17,"t":494,"x":17,"g":4},{"k":17,"t":502,"x":16.9},
{"k":17,"t":512,"x":17,"g":5},{"k":17,"t":525,"x":17.1,"g":5},{"k":17,"t":545,"x":17.1,"g":5},{"k":17,"t":554,"x":17,"g":5},{"k":17,"t":560,"x":16.9},{"k":17,"t":591,"x":16.94},
{"k":17,"t":599,"x":17,"g":6},{"k":17,"t":605,"x":17.06,"g":6},{"k":17,"t":612,"x":17,"g":6},{"k":17,"t":646,"x":17},{"k":17,"t":653,"x":16.94},{"k":17,"t":662,"x":17},
{"k":17,"t":784,"x":17,"g":7},{"k":17,"t":790,"x":17.04,"g":7},{"k":17,"t":797,"x":17,"g":7},
{"k":17,"t":1027,"x":17},

{"k":18,"t":-27,"x":18},
{"k":18,"t":236,"x":18,"g":1},{"k":18,"t":243,"x":18.04,"g":1},{"k":18,"t":248,"x":18,"g":1},
{"k":18,"t":329,"x":18,"g":2},{"k":18,"t":335,"x":18.04,"g":2},{"k":18,"t":341,"x":18,"g":2},{"k":18,"t":357,"x":17.77},
{"k":18,"t":371,"x":18,"g":3},{"k":18,"t":385,"x":18.48,"g":3},{"k":18,"t":395,"x":18,"g":3},{"k":18,"t":400,"x":17.69},
{"k":18,"t":407,"x":18,"g":4},{"k":18,"t":415,"x":18.33,"g":4},{"k":18,"t":420,"x":18,"g":4},{"k":18,"t":428,"x":17.6},
{"k":18,"t":446,"x":18,"g":5},{"k":18,"t":455,"x":18.17,"g":5},{"k":18,"t":467,"x":18,"g":5},{"k":18,"t":479,"x":17.63},
{"k":18,"t":489,"x":18,"g":6},{"k":18,"t":500,"x":18.46,"g":6},{"k":18,"t":509,"x":18,"g":6},{"k":18,"t":515,"x":17.77},
{"k":18,"t":528,"x":18,"g":7},{"k":18,"t":541,"x":18.27,"g":7},{"k":18,"t":553,"x":18,"g":7},{"k":18,"t":560,"x":17.94},
{"k":18,"t":564,"x":18,"g":8},{"k":18,"t":570,"x":18.06,"g":8},{"k":18,"t":576,"x":18,"g":8},{"k":18,"t":591,"x":17.9},
{"k":18,"t":603,"x":18,"g":9},{"k":18,"t":609,"x":18.04,"g":9},{"k":18,"t":615,"x":18,"g":9},{"k":18,"t":644,"x":17.96},{"k":18,"t":652,"x":18},
{"k":18,"t":694,"x":18},{"k":18,"t":701,"x":17.96},{"k":18,"t":709,"x":18},
{"k":18,"t":1027,"x":18},

{"k":19,"t":-27,"x":19},
{"k":19,"t":170,"x":19,"g":1},{"k":19,"t":176,"x":19.04,"g":1},{"k":19,"t":182,"x":19,"g":1},
{"k":19,"t":333,"x":19,"g":2},{"k":19,"t":340,"x":19.04,"g":2},{"k":19,"t":346,"x":19,"g":2},{"k":19,"t":375,"x":18.79},
{"k":19,"t":394,"x":19,"g":3},{"k":19,"t":406,"x":19.38,"g":3},{"k":19,"t":419,"x":19,"g":3},{"k":19,"t":424,"x":18.83},
{"k":19,"t":429,"x":19,"g":4},{"k":19,"t":434,"x":19.17,"g":4},{"k":19,"t":440,"x":19,"g":4},{"k":19,"t":449,"x":18.6},
{"k":19,"t":456,"x":19,"g":5},{"k":19,"t":465,"x":19.1,"g":5},{"k":19,"t":474,"x":19,"g":5},{"k":19,"t":478,"x":18.83},
{"k":19,"t":480,"x":19,"g":6},{"k":19,"t":483,"x":19.15,"g":6},{"k":19,"t":486,"x":19,"g":6},{"k":19,"t":496,"x":18.6},
{"k":19,"t":505,"x":19,"g":7},{"k":19,"t":516,"x":19.56,"g":7},{"k":19,"t":524,"x":19,"g":7},{"k":19,"t":529,"x":18.87},
{"k":19,"t":545,"x":19,"g":8},{"k":19,"t":556,"x":19.25,"g":8},{"k":19,"t":567,"x":19,"g":8},{"k":19,"t":573,"x":18.92},
{"k":19,"t":578,"x":19,"g":9},{"k":19,"t":582,"x":19.06,"g":9},{"k":19,"t":587,"x":19,"g":9},{"k":19,"t":591,"x":18.87},
{"k":19,"t":593,"x":19,"g":10},{"k":19,"t":595,"x":19.06,"g":10},{"k":19,"t":600,"x":19,"g":10},{"k":19,"t":609,"x":18.87},
{"k":19,"t":628,"x":19,"g":11},{"k":19,"t":635,"x":19.04,"g":11},{"k":19,"t":641,"x":19,"g":11},{"k":19,"t":661,"x":18.92},{"k":19,"t":670,"x":19},
{"k":19,"t":726,"x":19,"g":12},{"k":19,"t":732,"x":19.04,"g":12},{"k":19,"t":738,"x":19,"g":12},
{"k":19,"t":770,"x":19,"g":13},{"k":19,"t":776,"x":19.04,"g":13},{"k":19,"t":784,"x":19,"g":13},
{"k":19,"t":1027,"x":19},

{"k":20,"t":-27,"x":20},
{"k":20,"t":174,"x":20,"g":1},{"k":20,"t":181,"x":20.06,"g":1},{"k":20,"t":187,"x":20,"g":1},
{"k":20,"t":355,"x":20,"g":2},{"k":20,"t":361,"x":20.04,"g":2},{"k":20,"t":366,"x":20,"g":2},{"k":20,"t":392,"x":19.81},
{"k":20,"t":408,"x":20,"g":3},{"k":20,"t":424,"x":20.42,"g":3},{"k":20,"t":437,"x":20,"g":3},{"k":20,"t":441,"x":19.81},
{"k":20,"t":445,"x":20,"g":4},{"k":20,"t":451,"x":20.08,"g":4},{"k":20,"t":457,"x":20,"g":4},{"k":20,"t":469,"x":19.77},
{"k":20,"t":474,"x":20,"g":5},{"k":20,"t":479,"x":20.1,"g":5},{"k":20,"t":484,"x":20,"g":5},{"k":20,"t":490,"x":19.85},
{"k":20,"t":494,"x":20,"g":6},{"k":20,"t":500,"x":20.23,"g":6},{"k":20,"t":505,"x":20,"g":6},{"k":20,"t":510,"x":19.63},
{"k":20,"t":519,"x":20,"g":7},{"k":20,"t":529,"x":20.27,"g":7},{"k":20,"t":538,"x":20,"g":7},{"k":20,"t":555,"x":19.65},
{"k":20,"t":563,"x":20,"g":8},{"k":20,"t":574,"x":20.38,"g":8},{"k":20,"t":586,"x":20,"g":8},{"k":20,"t":593,"x":19.83},
{"k":20,"t":599,"x":20,"g":9},{"k":20,"t":604,"x":20.06,"g":9},{"k":20,"t":610,"x":20,"g":9},{"k":20,"t":624,"x":19.83},
{"k":20,"t":632,"x":20,"g":10},{"k":20,"t":639,"x":20.06,"g":10},{"k":20,"t":646,"x":20,"g":10},{"k":20,"t":668,"x":19.87},{"k":20,"t":676,"x":20},
{"k":20,"t":726,"x":20,"g":11},{"k":20,"t":734,"x":20.04,"g":11},{"k":20,"t":742,"x":20,"g":11},
{"k":20,"t":763,"x":20,"g":12},{"k":20,"t":784,"x":20.04,"g":12},{"k":20,"t":806,"x":20,"g":12},
{"k":20,"t":1027,"x":20},

{"k":21,"t":-27,"x":21},
{"k":21,"t":173,"x":21,"g":1},{"k":21,"t":179,"x":21.06,"g":1},{"k":21,"t":185,"x":21,"g":1},
{"k":21,"t":346,"x":21,"g":2},{"k":21,"t":353,"x":21.02,"g":2},{"k":21,"t":359,"x":21,"g":2},{"k":21,"t":397,"x":20.79},{"k":21,"t":419,"x":20.79},
{"k":21,"t":429,"x":21,"g":3},{"k":21,"t":443,"x":21.5,"g":3},{"k":21,"t":455,"x":21,"g":3},{"k":21,"t":463,"x":20.87},{"k":21,"t":481,"x":20.83},{"k":21,"t":501,"x":20.63},
{"k":21,"t":506,"x":21,"g":4},{"k":21,"t":516,"x":21.35,"g":4},{"k":21,"t":524,"x":21,"g":4},{"k":21,"t":530,"x":20.58},
{"k":21,"t":541,"x":21,"g":5},{"k":21,"t":553,"x":21.38,"g":5},{"k":21,"t":564,"x":21,"g":5},{"k":21,"t":572,"x":20.65},
{"k":21,"t":579,"x":21,"g":6},{"k":21,"t":591,"x":21.42,"g":6},{"k":21,"t":603,"x":21,"g":6},{"k":21,"t":612,"x":20.87},
{"k":21,"t":619,"x":21,"g":7},{"k":21,"t":624,"x":21.06,"g":7},{"k":21,"t":629,"x":21,"g":7},{"k":21,"t":644,"x":20.9},
{"k":21,"t":664,"x":21,"g":8},{"k":21,"t":670,"x":21.04,"g":8},{"k":21,"t":677,"x":21,"g":8},{"k":21,"t":686,"x":20.9},{"k":21,"t":694,"x":21},
{"k":21,"t":734,"x":21,"g":9},{"k":21,"t":740,"x":21.06,"g":9},{"k":21,"t":747,"x":21,"g":9},
{"k":21,"t":770,"x":21,"g":10},{"k":21,"t":796,"x":21.08,"g":10},{"k":21,"t":822,"x":21,"g":10},{"k":21,"t":840,"x":20.9},{"k":21,"t":848,"x":21},{"k":21,"t":887,"x":21},{"k":21,"t":895,"x":20.92},{"k":21,"t":903,"x":21},
{"k":21,"t":963,"x":21,"g":11},{"k":21,"t":970,"x":21.04,"g":11},{"k":21,"t":977,"x":21,"g":11},
{"k":21,"t":1011,"x":21,"g":12},{"k":21,"t":1018,"x":21.04,"g":12},{"k":21,"t":1025,"x":21,"g":12},
{"k":21,"t":1027,"x":21},

{"k":22,"t":-27,"x":22},
{"k":22,"t":177,"x":22,"g":1},{"k":22,"t":183,"x":22.04,"g":1},{"k":22,"t":189,"x":22,"g":1},
{"k":22,"t":420,"x":22},{"k":22,"t":432,"x":21.85},{"k":22,"t":443,"x":21.9},
{"k":22,"t":452,"x":22,"g":2},{"k":22,"t":468,"x":22.4,"g":2},{"k":22,"t":487,"x":22,"g":2},{"k":22,"t":496,"x":21.73},
{"k":22,"t":504,"x":22,"g":3},{"k":22,"t":509,"x":22.06,"g":3},{"k":22,"t":513,"x":22,"g":3},{"k":22,"t":520,"x":21.54},
{"k":22,"t":529,"x":22,"g":4},{"k":22,"t":537,"x":22.4,"g":4},{"k":22,"t":545,"x":22,"g":4},{"k":22,"t":549,"x":21.71},
{"k":22,"t":563,"x":22,"g":5},{"k":22,"t":573,"x":22.15,"g":5},{"k":22,"t":582,"x":22,"g":5},{"k":22,"t":588,"x":21.87},
{"k":22,"t":599,"x":22,"g":6},{"k":22,"t":613,"x":22.27,"g":6},{"k":22,"t":625,"x":22,"g":6},{"k":22,"t":635,"x":21.85},
{"k":22,"t":646,"x":22,"g":7},{"k":22,"t":658,"x":22.13,"g":7},{"k":22,"t":670,"x":22,"g":7},{"k":22,"t":688,"x":21.85},
{"k":22,"t":702,"x":22,"g":8},{"k":22,"t":710,"x":22.06,"g":8},{"k":22,"t":718,"x":22,"g":8},{"k":22,"t":732,"x":21.94},{"k":22,"t":740,"x":22},
{"k":22,"t":770,"x":22,"g":9},{"k":22,"t":800,"x":22.13,"g":9},{"k":22,"t":824,"x":22,"g":9},{"k":22,"t":851,"x":21.9},{"k":22,"t":859,"x":22},
{"k":22,"t":874,"x":22,"g":10},{"k":22,"t":880,"x":22.04,"g":10},{"k":22,"t":886,"x":22,"g":10},{"k":22,"t":931,"x":22},{"k":22,"t":939,"x":21.92},{"k":22,"t":947,"x":22},
{"k":22,"t":956,"x":22,"g":11},{"k":22,"t":964,"x":22.04,"g":11},{"k":22,"t":971,"x":22,"g":11},{"k":22,"t":984,"x":22},{"k":22,"t":992,"x":21.94},{"k":22,"t":1000,"x":22},
{"k":22,"t":1016,"x":22,"g":12},{"k":22,"t":1022,"x":22.04,"g":12},{"k":22,"t":1027,"x":22,"g":12},

{"k":23,"t":-27,"x":23},
{"k":23,"t":153,"x":23,"g":1},{"k":23,"t":159,"x":23.04,"g":1},{"k":23,"t":165,"x":23,"g":1},
{"k":23,"t":450,"x":23},{"k":23,"t":463,"x":22.87},
{"k":23,"t":473,"x":23,"g":2},{"k":23,"t":487,"x":23.38,"g":2},{"k":23,"t":500,"x":23,"g":2},{"k":23,"t":506,"x":22.77},
{"k":23,"t":518,"x":23,"g":3},{"k":23,"t":527,"x":23.25,"g":3},{"k":23,"t":534,"x":23,"g":3},{"k":23,"t":539,"x":22.54},
{"k":23,"t":546,"x":23,"g":4},{"k":23,"t":553,"x":23.29,"g":4},{"k":23,"t":562,"x":23,"g":4},{"k":23,"t":568,"x":22.9},
{"k":23,"t":587,"x":23,"g":5},{"k":23,"t":599,"x":23.15,"g":5},{"k":23,"t":610,"x":23,"g":5},{"k":23,"t":613,"x":22.9},
{"k":23,"t":621,"x":23,"g":6},{"k":23,"t":633,"x":23.31,"g":6},{"k":23,"t":644,"x":23,"g":6},{"k":23,"t":649,"x":22.83},
{"k":23,"t":660,"x":23,"g":7},{"k":23,"t":670,"x":23.21,"g":7},{"k":23,"t":681,"x":23,"g":7},{"k":23,"t":692,"x":22.87},{"k":23,"t":700,"x":23},
{"k":23,"t":736,"x":23,"g":8},{"k":23,"t":754,"x":23.13,"g":8},{"k":23,"t":766,"x":23,"g":8},
{"k":23,"t":788,"x":23,"g":9},{"k":23,"t":798,"x":23.13,"g":9},{"k":23,"t":808,"x":23,"g":9},{"k":23,"t":830,"x":22.94},
{"k":23,"t":834,"x":23,"g":10},{"k":23,"t":838,"x":23.06,"g":10},{"k":23,"t":842,"x":23,"g":10},{"k":23,"t":851,"x":22.9},{"k":23,"t":859,"x":23},{"k":23,"t":927,"x":23},{"k":23,"t":935,"x":22.9},{"k":23,"t":943,"x":23},
{"k":23,"t":1014,"x":23,"g":11},{"k":23,"t":1022,"x":23.04,"g":11},{"k":23,"t":1027,"x":23,"g":11},

{"k":24,"t":-27,"x":24},{"k":24,"t":-18,"x":24},
{"k":24,"t":-15,"x":24,"g":1},{"k":24,"t":-10,"x":24.04,"g":1},{"k":24,"t":-3,"x":24,"g":1},{"k":24,"t":23,"x":23.94},{"k":24,"t":28,"x":24},
{"k":24,"t":120,"x":24},{"k":24,"t":126,"x":23.96},{"k":24,"t":131,"x":24},{"k":24,"t":161,"x":23.94},
{"k":24,"t":165,"x":24,"g":2},{"k":24,"t":168,"x":24.06,"g":2},{"k":24,"t":172,"x":24,"g":2},{"k":24,"t":194,"x":23.96},
{"k":24,"t":223,"x":24,"g":3},{"k":24,"t":227,"x":24.04,"g":3},{"k":24,"t":231,"x":24,"g":3},
{"k":24,"t":269,"x":24,"g":4},{"k":24,"t":280,"x":24.06,"g":4},{"k":24,"t":289,"x":24,"g":4},{"k":24,"t":315,"x":23.94},{"k":24,"t":331,"x":23.94},{"k":24,"t":346,"x":24},
{"k":24,"t":460,"x":24},{"k":24,"t":476,"x":23.81},
{"k":24,"t":486,"x":24,"g":5},{"k":24,"t":505,"x":24.5,"g":5},{"k":24,"t":520,"x":24,"g":5},{"k":24,"t":531,"x":23.63},
{"k":24,"t":538,"x":24,"g":6},{"k":24,"t":545,"x":24.15,"g":6},{"k":24,"t":550,"x":24,"g":6},{"k":24,"t":559,"x":23.52},
{"k":24,"t":568,"x":24,"g":7},{"k":24,"t":573,"x":24.06,"g":7},{"k":24,"t":579,"x":24,"g":7},{"k":24,"t":591,"x":23.92},
{"k":24,"t":603,"x":24,"g":8},{"k":24,"t":615,"x":24.17,"g":8},{"k":24,"t":625,"x":24,"g":8},{"k":24,"t":631,"x":23.92},
{"k":24,"t":637,"x":24,"g":9},{"k":24,"t":649,"x":24.31,"g":9},{"k":24,"t":658,"x":24,"g":9},{"k":24,"t":665,"x":23.83},
{"k":24,"t":677,"x":24,"g":10},{"k":24,"t":688,"x":24.15,"g":10},{"k":24,"t":697,"x":24,"g":10},{"k":24,"t":706,"x":23.77},
{"k":24,"t":713,"x":24,"g":11},{"k":24,"t":719,"x":24.08,"g":11},{"k":24,"t":726,"x":24,"g":11},{"k":24,"t":743,"x":23.94},
{"k":24,"t":758,"x":24,"g":12},{"k":24,"t":769,"x":24.13,"g":12},{"k":24,"t":779,"x":24,"g":12},{"k":24,"t":792,"x":23.94},
{"k":24,"t":800,"x":24,"g":13},{"k":24,"t":812,"x":24.1,"g":13},{"k":24,"t":822,"x":24,"g":13},
{"k":24,"t":840,"x":24,"g":14},{"k":24,"t":851,"x":24.1,"g":14},{"k":24,"t":861,"x":24,"g":14},{"k":24,"t":871,"x":23.9},{"k":24,"t":879,"x":24},{"k":24,"t":889,"x":24},{"k":24,"t":895,"x":23.94},{"k":24,"t":901,"x":24},{"k":24,"t":933,"x":24},{"k":24,"t":939,"x":23.9},{"k":24,"t":945,"x":24},{"k":24,"t":952,"x":23.92},{"k":24,"t":958,"x":24},
{"k":24,"t":1011,"x":24,"g":15},{"k":24,"t":1019,"x":24.06,"g":15},{"k":24,"t":1025,"x":24,"g":15},
{"k":24,"t":1027,"x":24}
]},
"layer":[
{"data":{"name":"tr"},"transform":[{"filter":"datum.g > 0"}],
 "mark":{"type":"area","orient":"horizontal","color":"#3557a8","opacity":1},
 "encoding":{
  "y":{"field":"t","type":"quantitative","scale":{"domain":[-27.5,1027.5],"reverse":true,"nice":false,"zero":false},
   "axis":{"orient":"left","values":[0,500,1000],"format":"d","domain":false,"grid":false,"ticks":false,"tickSize":0,"labelFont":"Liberation Sans","labelFontSize":22,"labelColor":"#7d2a7e","labelPadding":30,"labelBaseline":"middle","labelFlush":false,"labelOverlap":false,"title":"Travel Time (ms)","titleFont":"Liberation Sans","titleFontSize":30,"titleFontWeight":"normal","titleColor":"#7d2a7e","titleX":-135,"titleY":399,"titleAngle":270,"titleAlign":"center","titleBaseline":"alphabetic"}},
  "x":{"field":"x","type":"quantitative","stack":null,"scale":{"domain":[0,28],"nice":false,"zero":false},
   "axis":{"orient":"bottom","values":[0,4,8,12,16,20,24,28],"format":"d","domain":false,"grid":false,"ticks":true,"tickSize":21,"tickWidth":2,"tickColor":"#8a3a8c","labelFont":"Liberation Sans","labelFontSize":22,"labelColor":"#7d2a7e","labelAlign":"right","labelDx":-2,"labelBaseline":"alphabetic","labelPadding":46,"labelFlush":false,"labelOverlap":false,"title":"Trace Number","titleFont":"Liberation Sans","titleFontSize":29,"titleFontWeight":"normal","titleColor":"#7d2a7e","titleY":133,"titleX":672,"titleBaseline":"alphabetic","titleAlign":"center"}},
  "x2":{"field":"k"},
  "detail":[{"field":"k"},{"field":"g"}]}},
{"data":{"name":"picks"},
 "mark":{"type":"tick","orient":"horizontal","size":37,"thickness":6,"color":"#bb4f9f","opacity":1},
 "encoding":{"x":{"field":"k","type":"quantitative","scale":{"domain":[0,28],"nice":false,"zero":false}},
  "y":{"field":"t","type":"quantitative","scale":{"domain":[-27.5,1027.5],"reverse":true,"nice":false,"zero":false}}}},
{"data":{"name":"tr"},
 "mark":{"type":"line","color":"#3557a8","strokeWidth":1.7},
 "encoding":{"x":{"field":"x","type":"quantitative","scale":{"domain":[0,28],"nice":false,"zero":false}},
  "y":{"field":"t","type":"quantitative","scale":{"domain":[-27.5,1027.5],"reverse":true,"nice":false,"zero":false}},
  "detail":{"field":"k"},"order":{"field":"t","type":"quantitative"}}},
{"data":{"name":"hl"},
 "mark":{"type":"rule","color":"#8a3a8c","strokeWidth":2},
 "encoding":{"y":{"field":"t","type":"quantitative","scale":{"domain":[-27.5,1027.5],"reverse":true,"nice":false,"zero":false}},
  "x":{"datum":-0.52,"type":"quantitative","scale":{"domain":[0,28],"nice":false,"zero":false}},"x2":{"datum":28.58}}},
{"data":{"name":"vl"},
 "mark":{"type":"rule","color":"#8a3a8c","strokeWidth":2},
 "encoding":{"x":{"field":"v","type":"quantitative","scale":{"domain":[0,28],"nice":false,"zero":false}},
  "y":{"datum":-27.5,"type":"quantitative","scale":{"domain":[-27.5,1027.5],"reverse":true,"nice":false,"zero":false}},"y2":{"datum":1055}}},
{"data":{"name":"ticks"},
 "mark":{"type":"rule","color":"#8a3a8c","strokeWidth":2},
 "encoding":{"y":{"field":"t","type":"quantitative","scale":{"domain":[-27.5,1027.5],"reverse":true,"nice":false,"zero":false}},
  "x":{"datum":-0.27,"type":"quantitative","scale":{"domain":[0,28],"nice":false,"zero":false}},"x2":{"datum":0}}},
{"data":{"name":"ticks"},
 "mark":{"type":"rule","color":"#8a3a8c","strokeWidth":2},
 "encoding":{"y":{"field":"t","type":"quantitative","scale":{"domain":[-27.5,1027.5],"reverse":true,"nice":false,"zero":false}},
  "x":{"datum":28,"type":"quantitative","scale":{"domain":[0,28],"nice":false,"zero":false}},"x2":{"datum":28.29}}},
{"data":{"values":[{"s":"Trace Max"}]},
 "mark":{"type":"text","align":"left","baseline":"alphabetic","fontSize":32,"fontWeight":"bold","color":"#7d2a7e","font":"Liberation Sans"},
 "encoding":{"text":{"field":"s"},
  "x":{"datum":-2.9,"type":"quantitative","scale":{"domain":[0,28],"nice":false,"zero":false}},
  "y":{"datum":1194,"type":"quantitative","scale":{"domain":[-27.5,1027.5],"reverse":true,"nice":false,"zero":false}}}},
{"data":{"values":[{"s":"Paterson Group"}]},
 "mark":{"type":"text","align":"right","baseline":"alphabetic","fontSize":30,"fontWeight":"bold","color":"#7d2a7e","font":"Liberation Sans"},
 "encoding":{"text":{"field":"s"},
  "x":{"datum":28.46,"type":"quantitative","scale":{"domain":[0,28],"nice":false,"zero":false}},
  "y":{"datum":1219,"type":"quantitative","scale":{"domain":[-27.5,1027.5],"reverse":true,"nice":false,"zero":false}}}}
]
}
